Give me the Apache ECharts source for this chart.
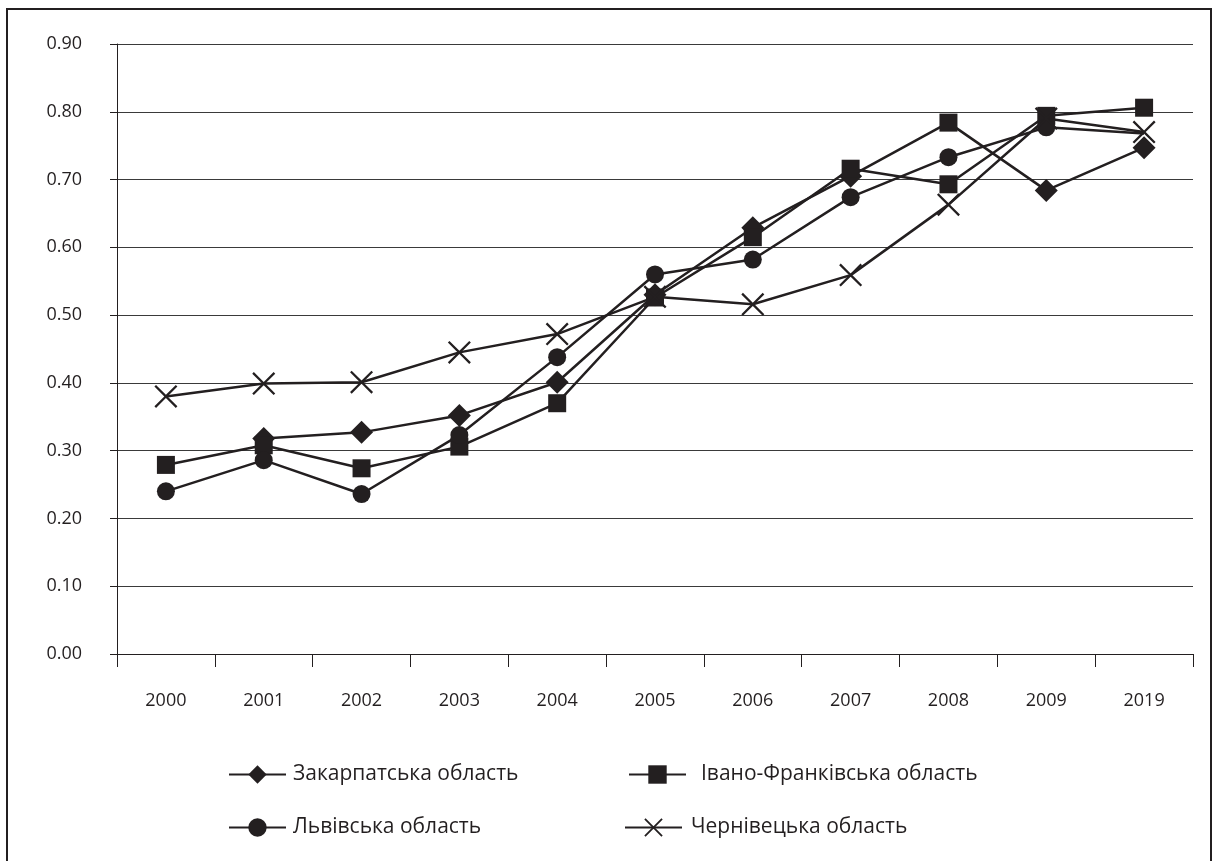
<!DOCTYPE html>
<html>
<head>
<meta charset="utf-8">
<script src="https://cdn.jsdelivr.net/npm/echarts@6/dist/echarts.min.js"></script>
<style>
  html, body { margin: 0; padding: 0; background: #fff; }
  #chart { width: 1217px; height: 861px; }
</style>
</head>
<body>
<div id="chart"></div>
<script>
// Years on the category axis
const years = ['2000', '2001', '2002', '2003', '2004', '2005', '2006', '2007', '2008', '2009', '2019'];

// Index values per region
const zakarpatska = [null, 0.318, 0.327, 0.352, 0.401, 0.530, 0.629, 0.705, 0.784, 0.684, 0.747];
const ivanoFrankivska = [0.279, 0.308, 0.274, 0.306, 0.370, 0.526, 0.615, 0.716, 0.693, 0.794, 0.806];
const lvivska = [0.240, 0.286, 0.236, 0.323, 0.438, 0.560, 0.582, 0.674, 0.733, 0.777, 0.768];
const chernivetska = [0.380, 0.399, 0.401, 0.445, 0.472, 0.527, 0.516, 0.559, 0.663, 0.790, 0.770];

// Region names
const names = ['Закарпатська область', 'Івано-Франківська область', 'Львівська область', 'Чернівецька область'];

const INK = '#231f20';
const FONT = '"Open Sans", "Noto Sans", sans-serif';
const CROSS = 'path://M0,1.4L1.4,0L10,8.6L18.6,0L20,1.4L11.4,10L20,18.6L18.6,20L10,11.4L1.4,20L0,18.6L8.6,10Z';

function makeSeries(name, values, symbol, size, overrides) {
  return {
    name: name,
    type: 'line',
    data: values.map((v, i) => (overrides && overrides[i]) ? Object.assign({ value: v }, overrides[i]) : v),
    symbol: symbol,
    symbolSize: size,
    showAllSymbol: true,
    lineStyle: { color: INK, width: 2.5 },
    itemStyle: { color: INK },
    emphasis: { disabled: true },
    animation: false
  };
}

const chart = echarts.init(document.getElementById('chart'), null, { renderer: 'canvas' });

function legendAt(name, left, top, textPad) {
  return {
    data: [name],
    left: left,
    top: top,
    padding: 0,
    itemWidth: 57,
    itemHeight: 23,
    selectedMode: false,
    textStyle: { color: INK, fontSize: 21, fontFamily: FONT, padding: [0, 0, 0, textPad] }
  };
}

chart.setOption({
  animation: false,
  backgroundColor: '#fff',
  graphic: [{
    type: 'rect',
    shape: { x: 7, y: 9, width: 1204, height: 900 },
    style: { fill: 'none', stroke: INK, lineWidth: 2 },
    silent: true
  }],
  grid: { left: 117, right: 24, top: 44, bottom: 207 },
  xAxis: {
    type: 'category',
    data: years,
    boundaryGap: true,
    axisLine: { lineStyle: { color: INK, width: 1 } },
    axisTick: { show: true, length: 13, lineStyle: { color: INK } },
    axisLabel: { color: INK, fontSize: 18, fontFamily: FONT, margin: 38 },
    splitLine: { show: false }
  },
  yAxis: {
    type: 'value',
    min: 0,
    max: 0.9,
    interval: 0.1,
    axisLine: { show: true, lineStyle: { color: INK, width: 1 } },
    axisTick: { show: true, length: 7, lineStyle: { color: INK } },
    axisLabel: { color: INK, fontSize: 18, fontFamily: FONT, margin: 35, formatter: v => v.toFixed(2) },
    splitLine: { show: true, lineStyle: { color: '#3a3a3a', width: 1 } }
  },
  legend: [
    legendAt(names[0], 228, 764, 2),
    legendAt(names[1], 628, 764, 10),
    legendAt(names[2], 228, 817, 2),
    legendAt(names[3], 624, 817, 4)
  ],
  series: [
    makeSeries(names[0], zakarpatska, 'diamond', 23, { 8: { symbol: 'rect', symbolSize: 18 } }),
    makeSeries(names[1], ivanoFrankivska, 'rect', 18),
    makeSeries(names[2], lvivska, 'circle', 18, { 10: { symbol: 'none' } }),
    makeSeries(names[3], chernivetska, CROSS, 23)
  ]
});
</script>
</body>
</html>
